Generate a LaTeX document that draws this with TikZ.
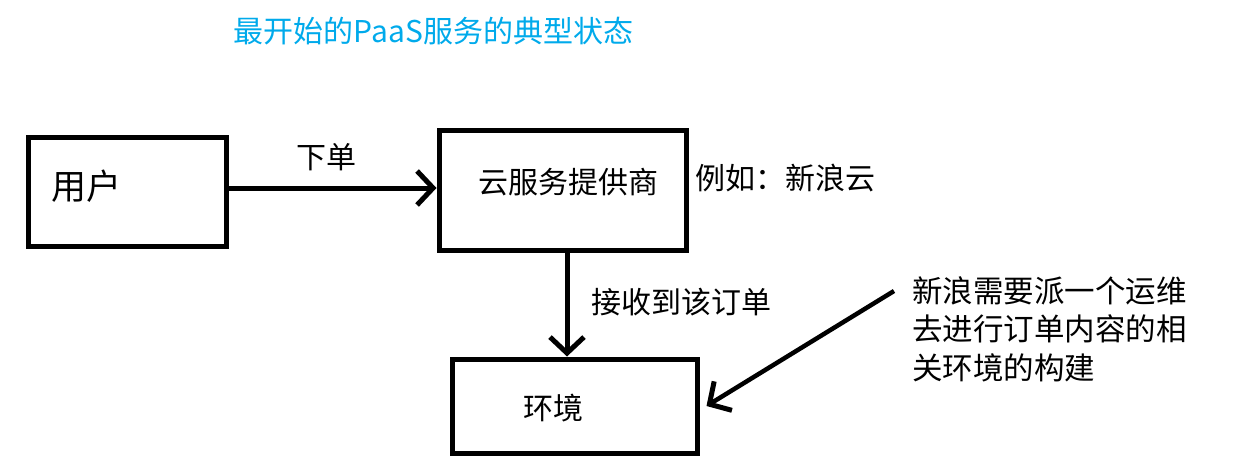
\documentclass[tikz,border=0pt]{standalone}
\usepackage{fontspec}
\setmainfont{Noto Sans CJK SC}
\newfontfamily\cjk{Noto Sans CJK SC}
\usetikzlibrary{arrows.meta}
\definecolor{titleblue}{RGB}{0,170,235}
\begin{document}
\begin{tikzpicture}[x=1pt,y=-1pt,
  box/.style={draw=black,line width=5pt,inner sep=0pt},
  txt/.style={inner sep=0pt,font=\cjk\fontsize{30}{38.5}\selectfont},
  arr/.style={line width=5pt,-{Straight Barb[length=16pt,width=34pt,line width=5pt]}}]
\useasboundingbox (0,0) rectangle (1240,466);
% title
\node[txt,text=titleblue] (title) at (433.5,31) {最开始的PaaS服务的典型状态};
% boxes
\node[box,minimum width=198pt,minimum height=109pt] (u) at (127,191.5) {};
\node[box,minimum width=247pt,minimum height=120pt] (p) at (562.5,190) {};
\node[box,minimum width=245pt,minimum height=94pt] (e) at (574.5,406) {};
% box texts
\node[txt,font=\cjk\fontsize{35}{40}\selectfont] (ut) at (86,186) {用户};
\node[txt] (pt) at (568,182) {云服务提供商};
\node[txt] (et) at (553,408) {环境};
% side texts
\node[txt,font=\cjk\fontsize{30}{36}\selectfont,anchor=west] (ex) at (695,178) {例如：新浪云};
\node[txt,font=\cjk\fontsize{30.5}{38.5}\selectfont,align=left,anchor=west] (note) at (912,329) {新浪需要派一个运维\\去进行订单内容的相\\关环境的构建};
% connectors
\draw[arr] ([yshift=3.5pt]u.east) -- ([yshift=3.5pt]u.east -| p.west);
\node[txt] (l1) at (326,157) {下单};
\draw[arr] ([xshift=4.5pt]p.south) -- ([xshift=4.5pt]p.south |- e.north);
\node[txt,anchor=west] (l2) at (591,302) {接收到该订单};
\coordinate (s) at (894,291);
\draw[arr,line width=4.5pt] (s) -- ([xshift=7pt]e.east);
\end{tikzpicture}
\end{document}
